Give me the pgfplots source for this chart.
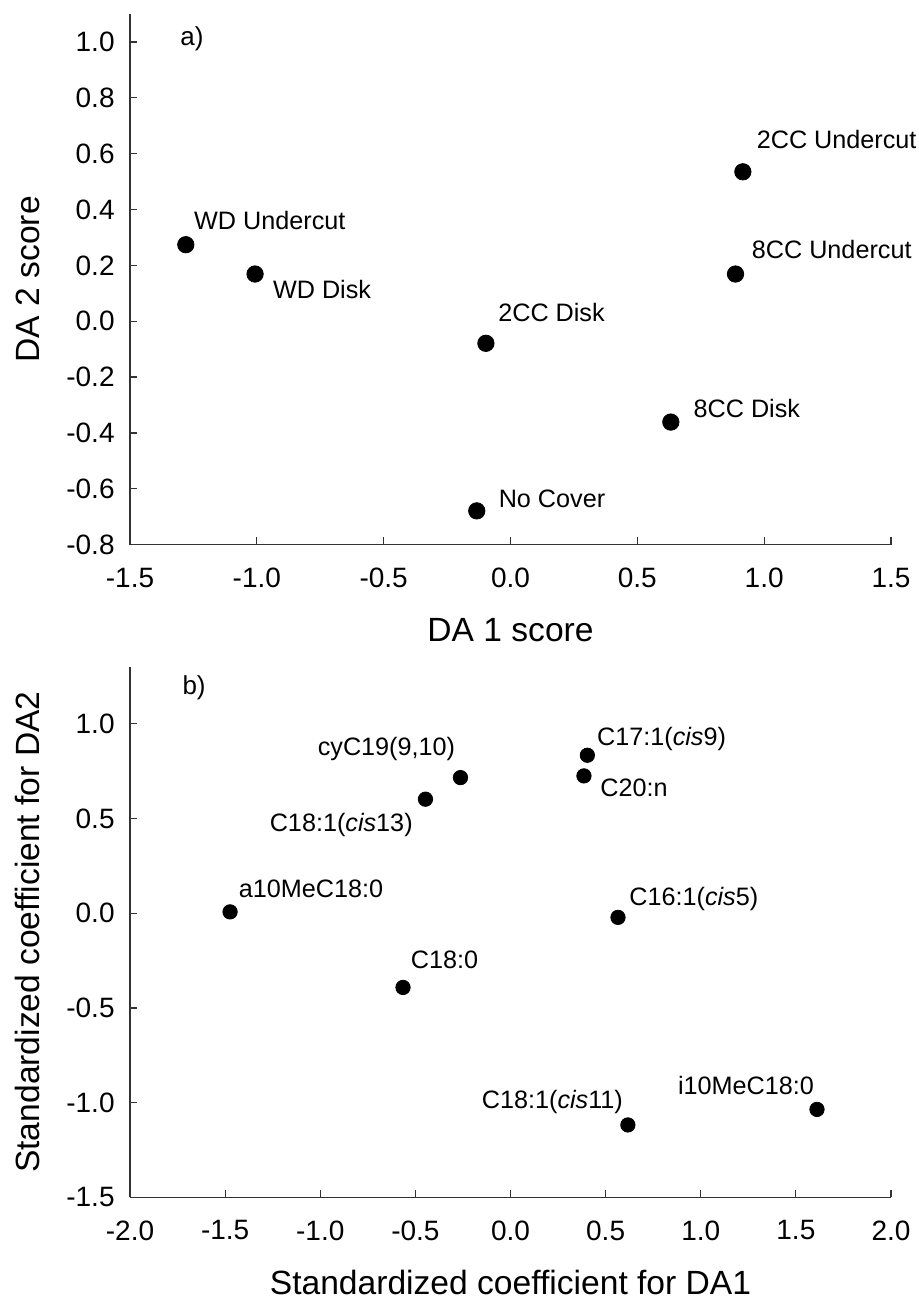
\documentclass[border=0pt]{standalone}
\usepackage{fontspec}
\setmainfont{Liberation Sans}
\usepackage{pgfplots}
\pgfplotsset{compat=1.18}

\pgfplotsset{
  scoreplot/.style={
    scale only axis,
    width=380.5pt,
    axis x line*=bottom,
    axis y line*=left,
    axis line style={-, line width=0.6pt, black!80},
    tick align=inside,
    major tick length=3.7pt,
    tick style={line width=0.6pt, black!80},
    ticklabel style={font=\fontsize{14}{16}\selectfont},
    xticklabel style={inner sep=0pt, anchor=north, yshift=-11.5pt},
    yticklabel style={inner sep=0pt, anchor=east, xshift=-7.5pt},
    label style={font=\fontsize{16.8}{19}\selectfont},
    ylabel style={at={(axis description cs:-0.1183,0.5)}, anchor=base},
    clip=false,
  },
}
\tikzset{
  ptlabel/.style={font=\fontsize{12.6}{14}\selectfont, inner sep=0pt},
  panellabel/.style={font=\fontsize{13}{15}\selectfont, inner sep=0pt, anchor=west},
}

\begin{document}
\begin{tikzpicture}

% a) discriminant scores of the treatments
\begin{axis}[scoreplot,
  at={(65pt,377.65pt)}, anchor=south west,
  height=265.35pt,
  xmin=-1.5, xmax=1.5, ymin=-0.8, ymax=1.1,
  xtick={-1.5,-1,-0.5,0,0.5,1,1.5},
  xticklabels={-1.5,-1.0,-0.5,0.0,0.5,1.0,1.5},
  ytick={-0.8,-0.6,-0.4,-0.2,0,0.2,0.4,0.6,0.8,1.0},
  yticklabels={-0.8,-0.6,-0.4,-0.2,0.0,0.2,0.4,0.6,0.8,1.0},
  xlabel={DA 1 score},
  xlabel style={at={(axis description cs:0.5,-0.183)}, anchor=base},
  ylabel={DA 2 score},
]
\addplot[only marks, mark=*, mark size=4.1pt, black] coordinates {
  (-1.280,0.274) (-1.007,0.169) (-0.097,-0.079) (0.916,0.535)
  (0.887,0.169) (0.632,-0.361) (-0.133,-0.679)
};
\node[ptlabel, anchor=west, xshift=4pt,    yshift=12.3pt] at (axis cs:-1.280,0.274) {WD Undercut};
\node[ptlabel, anchor=west, xshift=8.8pt,  yshift=-7.5pt] at (axis cs:-1.007,0.169) {WD Disk};
\node[ptlabel, anchor=west, xshift=6pt,    yshift=15.2pt] at (axis cs:-0.097,-0.079) {2CC Disk};
\node[ptlabel, anchor=west, xshift=6.8pt,  yshift=16pt]   at (axis cs:0.916,0.535) {2CC Undercut};
\node[ptlabel, anchor=west, xshift=8pt,    yshift=12.2pt] at (axis cs:0.887,0.169) {8CC Undercut};
\node[ptlabel, anchor=west, xshift=11.2pt, yshift=6.7pt]  at (axis cs:0.632,-0.361) {8CC Disk};
\node[ptlabel, anchor=west, xshift=10.8pt, yshift=6.2pt]  at (axis cs:-0.133,-0.679) {No Cover};
\node[panellabel] at (axis cs:-1.303,1.011) {a)};
\end{axis}

% b) standardized coefficients of the fatty acids
\begin{axis}[scoreplot,
  at={(65pt,51.35pt)}, anchor=south west,
  height=265.15pt,
  xmin=-2, xmax=2, ymin=-1.5, ymax=1.3,
  xtick={-2,-1.5,-1,-0.5,0,0.5,1,1.5,2},
  xticklabels={-2.0,-1.5,-1.0,-0.5,0.0,0.5,1.0,1.5,2.0},
  ytick={-1.5,-1,-0.5,0,0.5,1},
  yticklabels={-1.5,-1.0,-0.5,0.0,0.5,1.0},
  xlabel={Standardized coefficient for DA1},
  xlabel style={at={(axis description cs:0.5,-0.184)}, anchor=base},
  ylabel={Standardized coefficient for DA2},
]
\addplot[only marks, mark=*, mark size=3.6pt, black] coordinates {
  (-1.474,0.007) (-0.263,0.716) (-0.447,0.602) (0.404,0.834)
  (0.386,0.725) (0.565,-0.022) (-0.565,-0.392) (0.617,-1.118)
  (1.611,-1.036)
};
\node[ptlabel, anchor=west, xshift=4.2pt,  yshift=11.7pt] at (axis cs:-1.474,0.007) {a10MeC18:0};
\node[ptlabel, anchor=east, xshift=-2.5pt, yshift=14.5pt] at (axis cs:-0.263,0.716) {cyC19(9,10)};
\node[ptlabel, anchor=east, xshift=-6.2pt, yshift=-13pt]  at (axis cs:-0.447,0.602) {C18:1(\textit{cis}13)};
\node[ptlabel, anchor=west, xshift=4.7pt,  yshift=8pt]    at (axis cs:0.404,0.834) {C17:1(\textit{cis}9)};
\node[ptlabel, anchor=west, xshift=8pt,    yshift=-5.8pt] at (axis cs:0.386,0.725) {C20:n};
\node[ptlabel, anchor=west, xshift=5.5pt,  yshift=9.2pt]  at (axis cs:0.565,-0.022) {C16:1(\textit{cis}5)};
\node[ptlabel, anchor=west, xshift=3.7pt,  yshift=13.7pt] at (axis cs:-0.565,-0.392) {C18:0};
\node[ptlabel, anchor=east, xshift=-2.3pt, yshift=11.7pt] at (axis cs:0.617,-1.118) {C18:1(\textit{cis}11)};
\node[ptlabel, anchor=east, xshift=-1.35pt,yshift=12.2pt] at (axis cs:1.611,-1.036) {i10MeC18:0};
\node[panellabel] at (axis cs:-1.726,1.188) {b)};
\end{axis}

\pgfresetboundingbox
\path[use as bounding box] (0,0) rectangle (459.5pt,650pt);
\end{tikzpicture}
\end{document}
